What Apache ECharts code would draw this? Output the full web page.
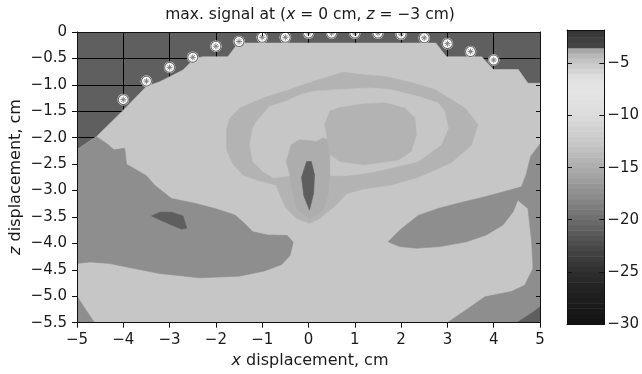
<!DOCTYPE html>
<html>
<head>
<meta charset="utf-8">
<script src="https://cdn.jsdelivr.net/npm/echarts@6/dist/echarts.min.js"></script>
<style>html,body{margin:0;padding:0;background:#fff}#c{width:642px;height:374px}</style>
</head>
<body>
<div id="c"></div>
<script>
// ---------- data ----------
const xMin = -5, xMax = 5, xStep = 1;
const zMin = -5.5, zMax = 0, zStep = 0.5;
const cbMin = -30, cbMax = -1.8, cbStep = 5;
const colorbarTicks = [-30, -25, -20, -15, -10, -5];

// colour scale: value (signal) -> grey level
const scaleValues = [-30, -27, -25, -23, -21, -19, -17.5, -15, -14.3, -12.8, -10, -8, -6.5, -5, -4, -3.5, -3.4, -1.8];
const scaleGreys  = [18, 32, 46, 68, 94, 122, 142, 173, 179, 198, 220, 228, 226, 200, 178, 156, 70, 52];

// colour-bar cells (lower edge of each 0.5 step)
const colorbarCells = [-30,-29.5,-29,-28.5,-28,-27.5,-27,-26.5,-26,-25.5,-25,-24.5,-24,-23.5,-23,-22.5,-22,-21.5,-21,-20.5,-20,-19.5,-19,-18.5,-18,-17.5,-17,-16.5,-16,-15.5,-15,-14.5,-14,-13.5,-13,-12.5,-12,-11.5,-11,-10.5,-10,-9.5,-9,-8.5,-8,-7.5,-7,-6.5,-6,-5.5,-5,-4.5,-4,-3.5,-3,-2.5,-2];

// contour levels of the filled regions
const levelLight = -12.8, levelRing = -14.3, levelCore = -15, levelMid = -17.5, levelDark = -21;

// region boundaries [x, z] in cm
const measuredEdge = [[-5,-2.23],[-4.58,-1.98],[-4.0,-1.48],[-3.5,-1.03],[-3.21,-0.94],[-2.71,-0.72],[-2.46,-0.5],[-2.28,-0.47],[-1.74,-0.47],[-1.52,-0.21],[2.75,-0.21],[2.98,-0.47],[3.74,-0.47],[3.99,-0.71],[4.53,-0.71],[4.74,-0.97],[5,-0.97],[5,-5.5],[-5,-5.5]];
const leftMid = [[-5,-2.23],[-4.58,-1.98],[-4.36,-2.11],[-4.2,-2.23],[-3.97,-2.2],[-3.93,-2.5],[-3.5,-2.72],[-3.32,-2.9],[-2.96,-3.15],[-2.46,-3.24],[-2.02,-3.34],[-1.59,-3.46],[-1.41,-3.6],[-1.2,-3.78],[-0.88,-3.84],[-0.46,-3.85],[-0.33,-3.98],[-0.4,-4.23],[-0.58,-4.4],[-0.95,-4.52],[-1.5,-4.62],[-2.35,-4.65],[-3.21,-4.57],[-3.79,-4.47],[-4.29,-4.38],[-4.72,-4.35],[-5,-4.38]];
const leftCornerMid = [[-5,-5.0],[-4.8,-5.27],[-4.62,-5.5],[-5,-5.5]];
const rightMid = [[5,-2.12],[4.8,-2.35],[4.7,-2.7],[4.6,-2.93],[4.1,-3.05],[3.66,-3.15],[3.23,-3.24],[2.8,-3.34],[2.37,-3.47],[1.97,-3.75],[1.72,-3.97],[1.97,-4.06],[2.33,-4.09],[2.84,-4.06],[3.41,-3.97],[3.84,-3.84],[4.2,-3.65],[4.42,-3.4],[4.52,-3.18],[4.74,-3.34],[4.82,-3.97],[4.85,-4.47],[4.67,-4.79],[4.38,-4.91],[3.81,-5.01],[3.45,-5.23],[3.0,-5.5],[5,-5.5]];
const rightCornerDark = [[4.5,-5.5],[4.85,-5.3],[5,-5.2],[5,-5.5]];
const ringOuter = [[-1.77,-1.85],[-1.7,-1.63],[-1.48,-1.44],[-0.98,-1.25],[-0.4,-1.09],[-0.12,-1.0],[0.24,-0.9],[0.75,-0.76],[1.18,-0.81],[1.65,-0.84],[2.2,-0.95],[2.73,-1.09],[3.38,-1.44],[3.66,-1.75],[3.52,-2.14],[3.09,-2.47],[2.37,-2.75],[1.76,-2.9],[1.18,-2.97],[0.82,-3.06],[0.6,-3.27],[0.24,-3.53],[0.03,-3.62],[-0.26,-3.53],[-0.48,-3.34],[-0.62,-3.08],[-0.69,-2.9],[-1.12,-2.8],[-1.41,-2.71],[-1.63,-2.5],[-1.77,-2.23]];
const ringGap = [[-1.2,-1.82],[-1.12,-1.69],[-0.84,-1.41],[-0.48,-1.31],[-0.19,-1.19],[0.1,-1.12],[0.68,-1.09],[1.32,-1.06],[1.76,-1.09],[2.37,-1.22],[2.8,-1.34],[2.94,-1.5],[3.02,-1.82],[2.87,-2.13],[2.37,-2.45],[1.65,-2.6],[1.18,-2.68],[0.75,-2.72],[0.46,-2.72],[-0.4,-2.72],[-0.76,-2.76],[-0.98,-2.64],[-1.2,-2.45],[-1.27,-2.13]];
const innerEllipse = [[0.35,-1.75],[0.46,-1.5],[0.68,-1.43],[1.18,-1.36],[1.65,-1.34],[2.08,-1.44],[2.3,-1.63],[2.33,-1.94],[2.22,-2.26],[1.94,-2.42],[1.65,-2.46],[1.18,-2.51],[0.68,-2.45],[0.46,-2.32],[0.39,-1.94]];
const coreBand = [[-0.48,-2.45],[-0.37,-2.13],[-0.19,-2.04],[0.17,-2.07],[0.32,-2.0],[0.46,-2.07],[0.46,-2.71],[0.42,-3.08],[0.32,-3.37],[0.03,-3.53],[-0.26,-3.34],[-0.33,-3.08],[-0.4,-2.71]];
const centreSpike = [[-0.04,-2.45],[0.06,-2.45],[0.13,-2.7],[0.11,-3.05],[0.02,-3.37],[-0.1,-3.1],[-0.15,-2.75]];
const leftSpot = [[-3.39,-3.48],[-3.21,-3.41],[-2.96,-3.41],[-2.71,-3.48],[-2.63,-3.71],[-2.74,-3.73],[-2.96,-3.65],[-3.17,-3.57]];

// max-signal positions
const markerX = [-4,-3.5,-3,-2.5,-2,-1.5,-1,-0.5,0,0.5,1,1.5,2,2.5,3,3.5,4];
const markerZ = [-1.28,-0.93,-0.67,-0.48,-0.27,-0.18,-0.1,-0.1,-0.02,-0.02,-0.02,-0.02,-0.04,-0.11,-0.22,-0.37,-0.53];

// ---------- build ----------
const regions = [
  {pts: measuredEdge, level: levelLight},
  {pts: leftMid, level: levelMid},
  {pts: leftCornerMid, level: levelMid},
  {pts: rightMid, level: levelMid},
  {pts: rightCornerDark, level: levelDark},
  {pts: ringOuter, level: levelRing},
  {pts: ringGap, level: levelLight},
  {pts: coreBand, level: levelCore},
  {pts: innerEllipse, level: levelRing},
  {pts: centreSpike, level: levelDark},
  {pts: leftSpot, level: levelDark}
];

function grey(v) {
  let i = 0;
  while (i < scaleValues.length - 2 && v > scaleValues[i + 1]) i++;
  let t = (v - scaleValues[i]) / (scaleValues[i + 1] - scaleValues[i]);
  t = Math.max(0, Math.min(1, t));
  const g = Math.round(scaleGreys[i] + t * (scaleGreys[i + 1] - scaleGreys[i]));
  return 'rgb(' + g + ',' + g + ',' + g + ')';
}
const FONT = 'DejaVu Sans';
const TXT = '#1a1a1a';
const minus = s => String(s).replace('-', '\u2212');

const chart = echarts.init(document.getElementById('c'), null, {renderer: 'canvas'});

const mainGrid = {left: 77, right: 102, top: 32, bottom: 51.3, show: true, backgroundColor: '#5f5f5f', borderWidth: 0};
const cbGrid = {left: 567, width: 39.5, top: 30, height: 294, show: false};

const lineBlack = {show: true, onZero: false, lineStyle: {color: '#111', width: 1}};
const noLine = {show: false, onZero: false};
function xAx(extra) {
  return Object.assign({type: 'value', gridIndex: 0, min: xMin, max: xMax, interval: xStep,
    axisLine: noLine, axisTick: {show: false}, axisLabel: {show: false}, splitLine: {show: false}}, extra);
}
function yAx(extra) {
  return Object.assign({type: 'value', gridIndex: 0, min: zMin, max: zMax, interval: zStep,
    axisLine: noLine, axisTick: {show: false}, axisLabel: {show: false}, splitLine: {show: false}}, extra);
}
const labelStyle = {color: TXT, fontFamily: FONT, fontSize: 15};

const option = {
  animation: false,
  grid: [mainGrid, cbGrid],
  xAxis: [
    xAx({splitLine: {show: true, lineStyle: {color: '#000', width: 1}}}),
    xAx({position: 'bottom', z: 10, axisLine: lineBlack,
      axisTick: {show: true, inside: false, length: 5, lineStyle: {color: '#111'}},
      axisLabel: Object.assign({show: true, margin: 10, formatter: v => minus(v)}, labelStyle)}),
    xAx({position: 'top', z: 10, axisLine: lineBlack,
      axisTick: {show: true, inside: true, length: 4, lineStyle: {color: '#111'}}}),
    {type: 'value', gridIndex: 1, min: 0, max: 1, position: 'bottom', z: 10, axisLine: lineBlack,
      axisTick: {show: false}, axisLabel: {show: false}, splitLine: {show: false}},
    {type: 'value', gridIndex: 1, min: 0, max: 1, position: 'top', z: 10, axisLine: lineBlack,
      axisTick: {show: false}, axisLabel: {show: false}, splitLine: {show: false}}
  ],
  yAxis: [
    yAx({splitLine: {show: true, lineStyle: {color: '#000', width: 1}}}),
    yAx({position: 'left', z: 10, axisLine: lineBlack,
      axisTick: {show: true, inside: false, length: 5, lineStyle: {color: '#111'}},
      axisLabel: Object.assign({show: true, margin: 10,
        formatter: v => (v === 0 ? '0' : minus(v.toFixed(1)))}, labelStyle)}),
    yAx({position: 'right', z: 10, axisLine: lineBlack,
      axisTick: {show: true, inside: true, length: 4, lineStyle: {color: '#111'}}}),
    {type: 'value', gridIndex: 1, min: cbMin, max: cbMax, interval: cbStep, position: 'left', z: 10,
      axisLine: lineBlack,
      axisTick: {show: true, inside: true, length: 5, customValues: colorbarTicks, lineStyle: {color: '#111'}},
      axisLabel: {show: false}, splitLine: {show: false}},
    {type: 'value', gridIndex: 1, min: cbMin, max: cbMax, interval: cbStep, position: 'right', z: 10,
      axisLine: lineBlack,
      axisTick: {show: true, inside: true, length: 5, customValues: colorbarTicks, lineStyle: {color: '#111'}},
      axisLabel: Object.assign({show: true, margin: 3, customValues: colorbarTicks,
        formatter: v => (colorbarTicks.indexOf(v) >= 0 ? minus(v) : '')}, labelStyle),
      splitLine: {show: false}}
  ],
  series: [
    {
      type: 'custom', xAxisIndex: 0, yAxisIndex: 0, clip: true, z: 2,
      data: regions.map((r, i) => [i, r.level]),
      renderItem: function (params, api) {
        const r = regions[api.value(0)];
        const pts = r.pts.map(p => api.coord(p));
        const c = grey(api.value(1));
        return {type: 'polygon', shape: {points: pts}, style: {fill: c, stroke: c, lineWidth: 0.6}};
      }
    },
    {
      type: 'custom', xAxisIndex: 0, yAxisIndex: 0, clip: true, z: 3,
      data: markerX.map((x, i) => [x, markerZ[i]]),
      renderItem: function (params, api) {
        const p = api.coord([api.value(0), api.value(1)]);
        const r = 5, a = 3.1, d = a * 0.7071;
        const st = {stroke: '#7a7a7a', lineWidth: 0.9};
        return {type: 'group', children: [
          {type: 'circle', shape: {cx: p[0], cy: p[1], r: r + 0.8}, style: {fill: '#fff'}},
          {type: 'circle', shape: {cx: p[0], cy: p[1], r: r}, style: {fill: '#fff', stroke: '#6a6a6a', lineWidth: 1.1}},
          {type: 'line', shape: {x1: p[0] - a, y1: p[1], x2: p[0] + a, y2: p[1]}, style: st},
          {type: 'line', shape: {x1: p[0], y1: p[1] - a, x2: p[0], y2: p[1] + a}, style: st},
          {type: 'line', shape: {x1: p[0] - d, y1: p[1] - d, x2: p[0] + d, y2: p[1] + d}, style: st},
          {type: 'line', shape: {x1: p[0] - d, y1: p[1] + d, x2: p[0] + d, y2: p[1] - d}, style: st}
        ]};
      }
    },
    {
      type: 'custom', xAxisIndex: 3, yAxisIndex: 3, clip: true, z: 2,
      data: colorbarCells.map(v => [0.5, v]),
      renderItem: function (params, api) {
        const v = api.value(1);
        const p0 = api.coord([0, v]);
        const p1 = api.coord([1, v + 0.5]);
        const c = grey(v + 0.25);
        return {type: 'rect', shape: {x: p0[0], y: p1[1], width: p1[0] - p0[0], height: p0[1] - p1[1] + 0.5},
          style: {fill: c}};
      }
    }
  ],
  graphic: [
    {type: 'text', x: 310, y: 15, style: {
      text: 'max. signal at ({i|x} = 0 cm, {i|z} = \u22123 cm)', fill: TXT, fontFamily: FONT, fontSize: 15.5,
      align: 'center', verticalAlign: 'middle', textAlign: 'center', textVerticalAlign: 'middle',
      rich: {i: {fontStyle: 'italic', fontFamily: FONT, fontSize: 15.5, fill: TXT}}}},
    {type: 'text', x: 310, y: 361, style: {
      text: '{i|x} displacement, cm', fill: TXT, fontFamily: FONT, fontSize: 16,
      align: 'center', verticalAlign: 'middle', textAlign: 'center', textVerticalAlign: 'middle',
      rich: {i: {fontStyle: 'italic', fontFamily: FONT, fontSize: 16, fill: TXT}}}},
    {type: 'text', x: 16, y: 177, rotation: Math.PI / 2, style: {
      text: '{i|z} displacement, cm', fill: TXT, fontFamily: FONT, fontSize: 16,
      align: 'center', verticalAlign: 'middle', textAlign: 'center', textVerticalAlign: 'middle',
      rich: {i: {fontStyle: 'italic', fontFamily: FONT, fontSize: 16, fill: TXT}}}}
  ]
};
chart.setOption(option);
</script>
</body>
</html>
